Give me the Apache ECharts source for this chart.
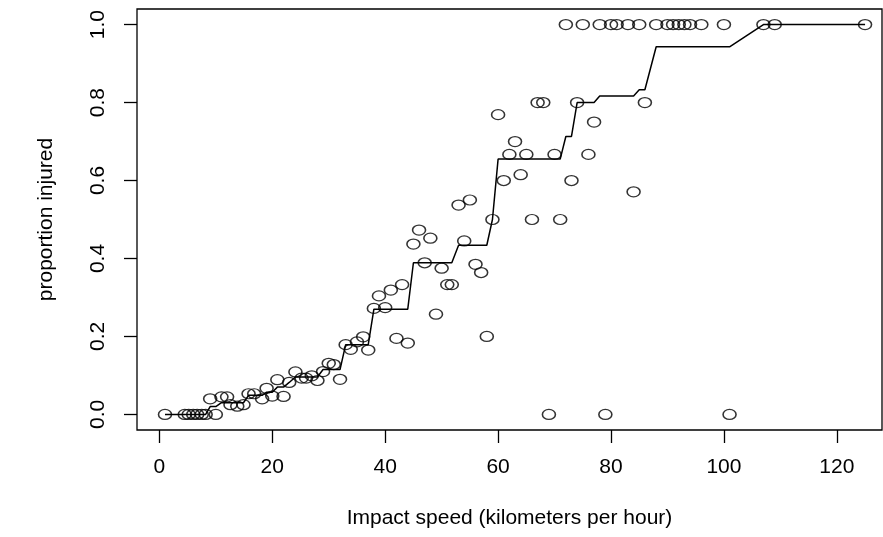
<!DOCTYPE html>
<html>
<head>
<meta charset="utf-8">
<script src="https://cdn.jsdelivr.net/npm/echarts@6/dist/echarts.min.js"></script>
<style>
  html, body { margin: 0; padding: 0; background: #fff; }
  #chart { width: 883px; height: 537px; }
</style>
</head>
<body>
<div id="chart"></div>
<script>
// observed points (impact speed, proportion injured)
var speed = [1,4.5,5.2,6,6.7,7.5,8.2,9,10,11,12,12.6,13.8,14.9,15.8,16.8,18.2,19,20,20.9,22,
  23,24.1,25.2,26,27,28,29,30,30.9,32,33,33.9,35,36.1,37,38,38.9,40,41,42,43,44,45,46,47,48,49,50,
  51,51.8,53,54,55,56,57,58,59,60,61,62,63,64,65,66,67,68,69,70,71,72,73,74,75,76,77,78,
  79,80,81,83,84,85,86,88,90,91,92,93,94,96,100,101,107,109,125];
var injured = [0,0,0,0,0,0,0,0.04,0,0.045,0.045,0.025,0.021,0.025,0.053,0.053,0.04,0.067,0.047,0.089,0.046,
  0.082,0.109,0.093,0.093,0.099,0.087,0.11,0.131,0.128,0.09,0.179,0.167,0.186,0.199,0.165,0.272,0.304,0.274,0.319,0.195,0.333,0.183,0.437,0.473,0.389,0.452,0.257,0.375,
  0.333,0.333,0.537,0.445,0.55,0.385,0.364,0.2,0.5,0.769,0.6,0.667,0.7,0.615,0.667,0.5,0.8,0.8,0,0.667,0.5,1,0.6,0.8,1,0.667,0.75,1,
  0,1,1,1,0.571,1,0.8,1,1,1,1,1,1,1,1,0,1,1,1];

// fitted (monotone) curve
var fitSpeed = [1,8.2,9,10,11,14.9,15.8,18.2,19,20,20.9,22,23,24.1,28,29,32,33,37,38,
  44,45,51.8,53,58,59,60,71,72,73,74,77,78,84,85,86,88,101,107,125];
var fitProp = [0,0,0.02,0.02,0.03,0.03,0.049,0.049,0.057,0.057,0.07,0.07,0.082,0.096,0.096,0.115,0.115,0.179,0.179,0.27,
  0.27,0.389,0.389,0.434,0.434,0.5,0.655,0.655,0.713,0.713,0.8,0.8,0.817,0.817,0.833,0.833,0.943,0.943,1,1];

var xTicks = [0,20,40,60,80,100,120];
var yTicks = [0,0.2,0.4,0.6,0.8,1.0];

var pts = speed.map(function (s, i) { return [s, injured[i]]; });
var fit = fitSpeed.map(function (s, i) { return [s, fitProp[i]]; });

var font = "'Liberation Sans', Arial, Helvetica, sans-serif";
var chart = echarts.init(document.getElementById('chart'));
chart.setOption({
  animation: false,
  backgroundColor: '#fff',
  textStyle: { fontFamily: font },
  grid: {
    left: 137, right: 1, top: 9, bottom: 107,
    show: true, borderColor: '#000', borderWidth: 1.3, backgroundColor: 'transparent'
  },
  xAxis: {
    type: 'value', min: -3.96, max: 128,
    name: 'Impact speed (kilometers per hour)',
    nameLocation: 'middle', nameGap: 78,
    nameTextStyle: { fontSize: 21, color: '#000', fontFamily: font },
    axisLine: { show: false, onZero: false },
    axisTick: { show: true, inside: false, length: 13, customValues: xTicks,
      lineStyle: { color: '#000', width: 1.3 } },
    axisLabel: { customValues: xTicks, margin: 27, fontSize: 21, color: '#000', fontFamily: font },
    splitLine: { show: false }
  },
  yAxis: {
    type: 'value', min: -0.04, max: 1.04,
    name: 'proportion injured',
    nameLocation: 'middle', nameGap: 80, nameRotate: 90,
    nameTextStyle: { fontSize: 21, color: '#000', fontFamily: font },
    axisLine: { show: false, onZero: false },
    axisTick: { show: true, inside: false, length: 13, customValues: yTicks,
      lineStyle: { color: '#000', width: 1.3 } },
    axisLabel: { customValues: yTicks, margin: 28, rotate: 90, fontSize: 21, color: '#000', fontFamily: font,
      formatter: function (v) { return v.toFixed(1); } },
    splitLine: { show: false }
  },
  series: [{
    type: 'scatter',
    data: pts,
    symbol: 'circle',
    symbolSize: [13, 10],
    itemStyle: { color: 'rgba(0,0,0,0)', borderColor: '#000', borderWidth: 1.4 },
    z: 2
  }, {
    type: 'line',
    data: fit,
    showSymbol: false,
    symbol: 'none',
    lineStyle: { color: '#000', width: 1.5 },
    z: 3
  }]
});
</script>
</body>
</html>
